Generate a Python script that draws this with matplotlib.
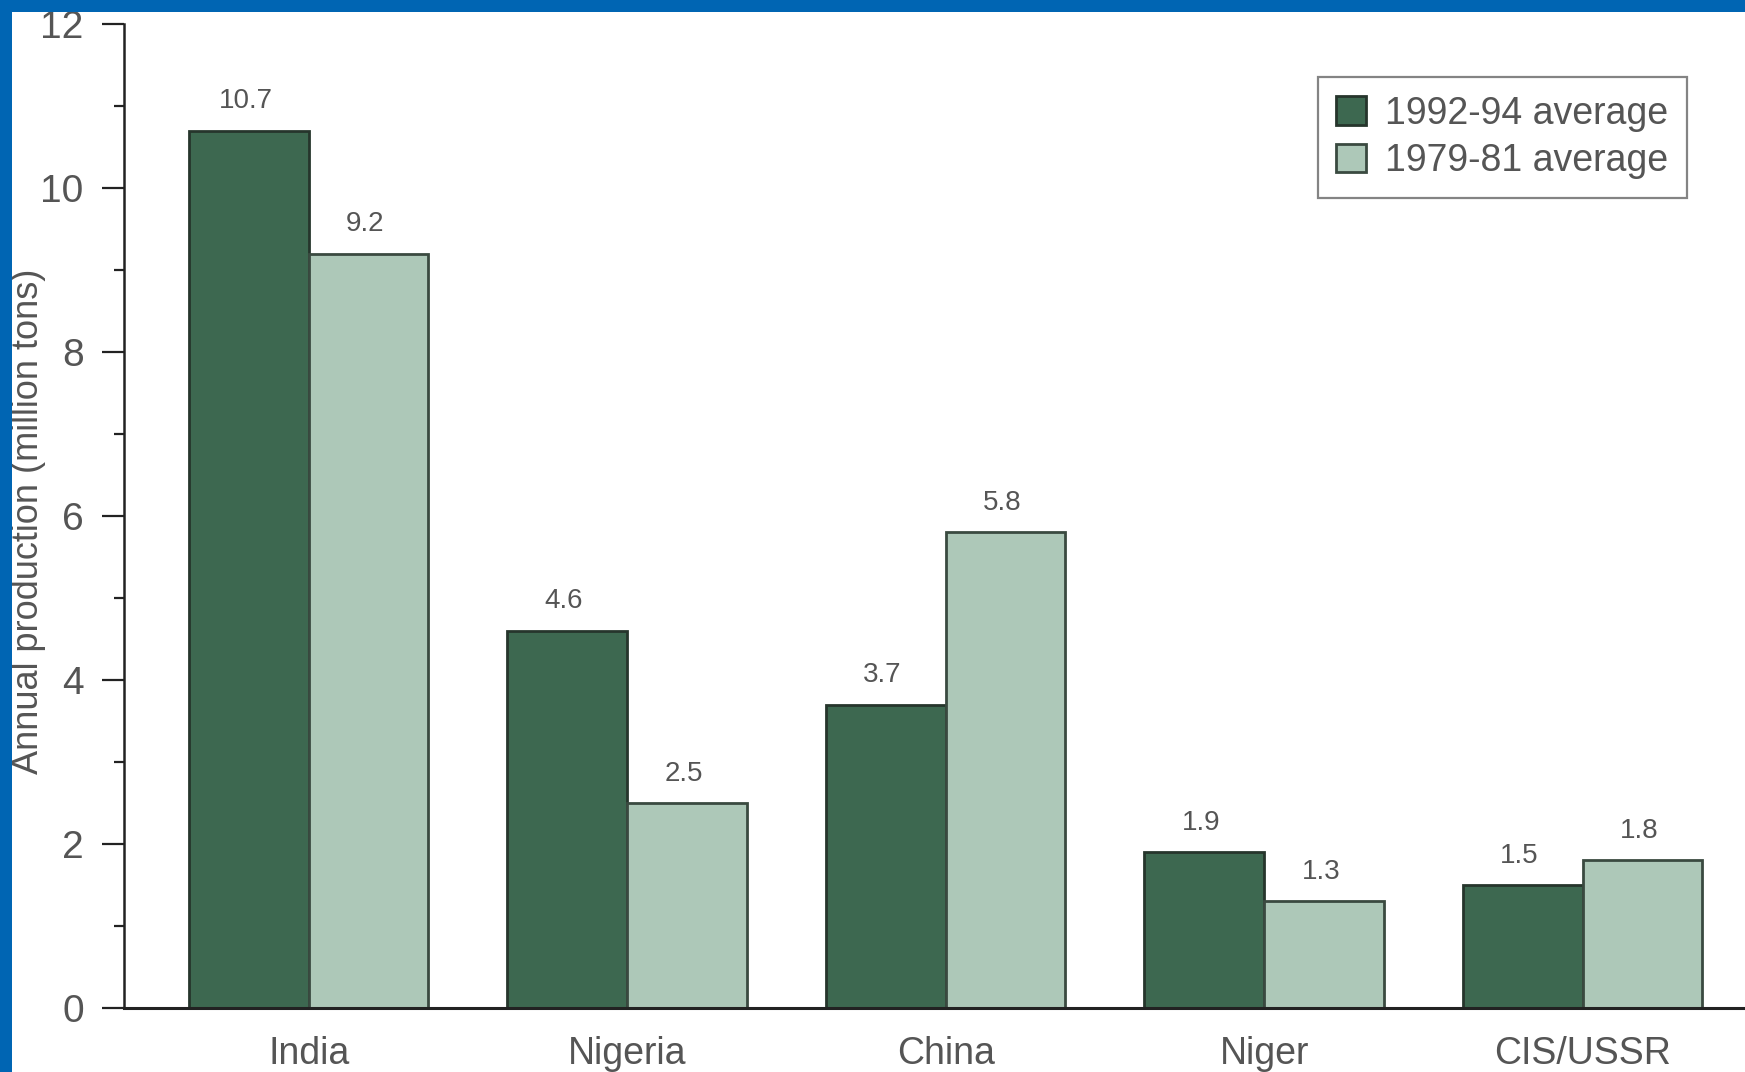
import matplotlib
matplotlib.use("Agg")
import matplotlib.pyplot as plt
import numpy as np
from matplotlib.patches import Rectangle

categories = ["India", "Nigeria", "China", "Niger", "CIS/USSR"]
avg_1992_94 = [10.7, 4.6, 3.7, 1.9, 1.5]
avg_1979_81 = [9.2, 2.5, 5.8, 1.3, 1.8]
series_labels = ["1992-94 average", "1979-81 average"]
value_text_new = ["10.7", "4.6", "3.7", "1.9", "1.5"]
value_text_old = ["9.2", "2.5", "5.8", "1.3", "1.8"]
y_ticks = [0, 2, 4, 6, 8, 10, 12]

plt.rcParams['font.family'] = ['Liberation Sans', 'DejaVu Sans']

dark = "#3d6850"
light = "#adc8b8"
edge = "#26352c"
txt = "#555555"

fig = plt.figure(figsize=(17.45, 10.72), dpi=100)
fig.patch.set_facecolor("white")
ax = fig.add_axes([124/1745, (1072-1008)/1072, 1 - 124/1745, (1008-24)/1072])

x = np.arange(len(categories))
w = 0.376
ax.bar(x - w/2, avg_1992_94, w, color=dark, edgecolor=edge, linewidth=2, label=series_labels[0])
ax.bar(x + w/2, avg_1979_81, w, color=light, edgecolor="#3a4a40", linewidth=2, label=series_labels[1])

for xi, v, t in zip(x - w/2, avg_1992_94, value_text_new):
    ax.text(xi - 0.01, v + 0.2, t, ha="center", va="bottom", fontsize=20, color=txt)
for xi, v, t in zip(x + w/2, avg_1979_81, value_text_old):
    ax.text(xi - 0.01, v + 0.2, t, ha="center", va="bottom", fontsize=20, color=txt)

ax.set_xlim(-0.58, 4.51)
ax.set_ylim(0, 12)
ax.set_yticks(y_ticks)
ax.set_yticks(np.arange(1, 12, 2), minor=True)
ax.set_yticklabels([str(t) for t in y_ticks])
ax.set_xticks(x)
ax.set_xticklabels(categories)

for s in ["top", "right"]:
    ax.spines[s].set_visible(False)
ax.spines["left"].set_linewidth(1.8)
ax.spines["bottom"].set_linewidth(2.2)
ax.spines["left"].set_color("#222222")
ax.spines["bottom"].set_color("#222222")

ax.tick_params(axis="y", which="major", direction="out", length=16, width=1.6,
               color="#222222", labelsize=28, labelcolor=txt, pad=13)
ax.tick_params(axis="y", which="minor", direction="out", length=7, width=1.6, color="#222222")
ax.tick_params(axis="x", which="major", length=0, labelsize=27, labelcolor=txt, pad=20)

ax.set_ylabel("Annual production (million tons)", fontsize=26, color=txt)
ax.yaxis.set_label_coords(-0.048, 0.495)

leg = ax.legend(loc="upper right", bbox_to_anchor=(1687/1745, 1 - 77/1072),
                bbox_transform=fig.transFigure, borderaxespad=0, fancybox=False,
                fontsize=27, handlelength=0.8, handleheight=0.8, handletextpad=0.5,
                labelspacing=0.3, borderpad=0.5, frameon=True)
leg.get_frame().set_edgecolor("#666666")
leg.get_frame().set_linewidth(1.6)
for t in leg.get_texts():
    t.set_color(txt)

blue = "#0065b3"
fig.add_artist(Rectangle((0, 1 - 12/1072), 1, 12/1072, transform=fig.transFigure,
                         facecolor=blue, edgecolor="none", zorder=20))
fig.add_artist(Rectangle((0, 0), 12/1745, 1, transform=fig.transFigure,
                         facecolor=blue, edgecolor="none", zorder=20))

fig.savefig("out.png", dpi=100)
